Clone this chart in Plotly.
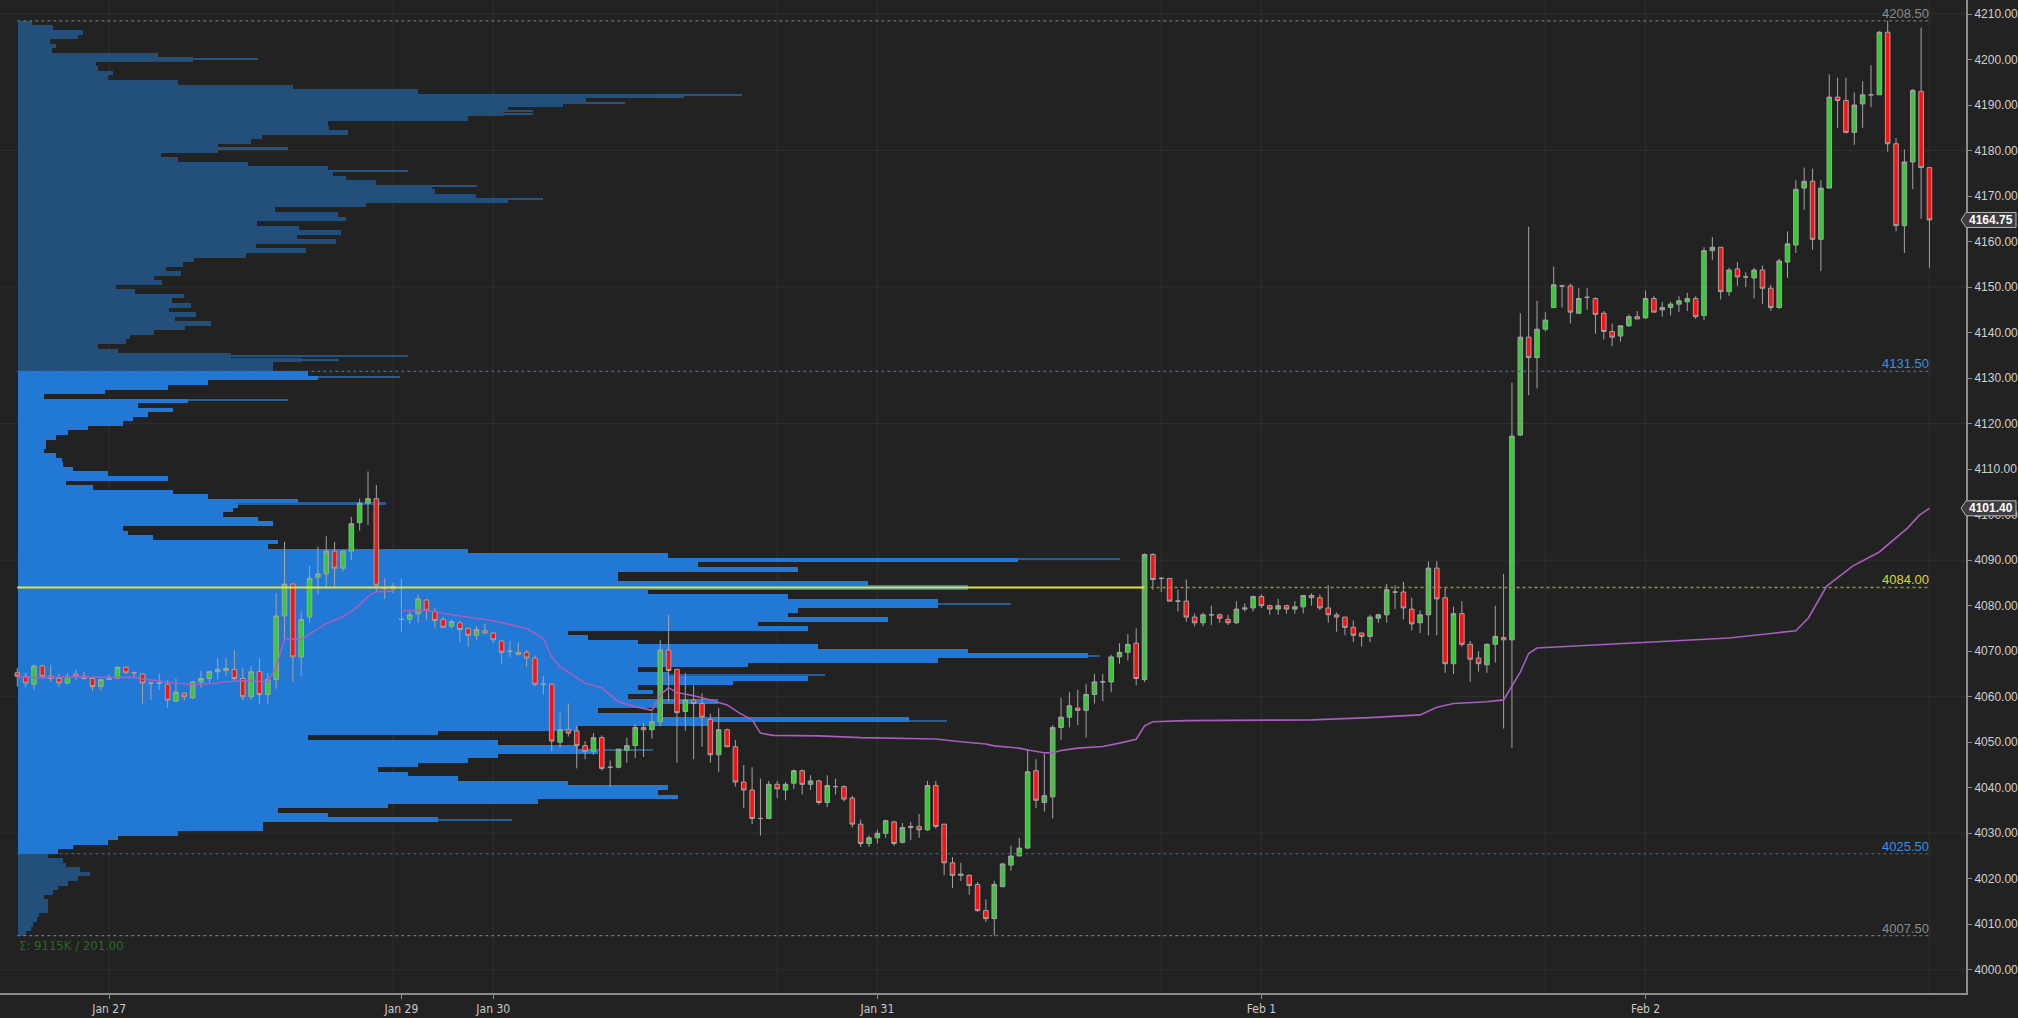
import plotly.graph_objects as go

# ---------------- data ----------------
tick_bars = [11, 46, 57, 103, 149, 195]
tick_labels = ["Jan 27", "Jan 29", "Jan 30", "Jan 31", "Feb 1", "Feb 2"]
grid_bars = [11, 45, 57, 91, 103, 137, 149, 183, 195, 229]
grid_prices = [4000, 4030, 4060, 4090, 4120, 4150, 4180, 4210]

opens = [
    4065.25, 4064.5, 4062.75, 4066.75, 4064.5, 4064.0, 4063.0, 4065.0, 4064.5, 4064.0,
    4062.25, 4063.75, 4064.0, 4066.5, 4065.25, 4065.0, 4063.0, 4063.0, 4062.75, 4059.0,
    4060.75, 4059.75, 4063.25, 4064.0, 4065.5, 4065.75, 4066.0, 4064.0, 4060.0, 4065.5,
    4060.5, 4063.75, 4077.75, 4084.75, 4068.75, 4077.5, 4086.25, 4087.0, 4092.0, 4088.25,
    4092.0, 4098.25, 4102.5, 4103.5, 4084.0, 4083.75, 4077.0, 4077.0, 4078.25, 4081.25,
    4078.75, 4077.0, 4075.5, 4076.25, 4075.0, 4073.5, 4074.5, 4074.0, 4072.25, 4070.0,
    4069.75, 4069.75, 4068.5, 4062.75, 4062.75, 4050.0, 4052.75, 4052.5, 4049.25, 4048.0,
    4051.0, 4044.5, 4044.5, 4048.25, 4049.25, 4053.25, 4052.75, 4054.5, 4070.25, 4066.0,
    4056.75, 4059.25, 4058.5, 4055.0, 4047.25, 4052.75, 4049.0, 4041.25, 4039.5, 4033.25,
    4033.25, 4040.75, 4039.5, 4041.0, 4043.75, 4040.75, 4041.5, 4036.75, 4040.25, 4040.25,
    4037.75, 4032.0, 4027.75, 4029.0, 4030.0, 4032.5, 4028.0, 4031.25, 4031.5, 4030.75,
    4040.5, 4032.0, 4023.5, 4020.75, 4020.75, 4018.75, 4013.0, 4011.25, 4018.25, 4023.0,
    4025.0, 4026.75, 4043.75, 4036.75, 4038.0, 4053.25, 4055.5, 4057.5, 4057.0, 4060.5,
    4063.25, 4063.25, 4068.75, 4069.75, 4071.75, 4063.75, 4091.25, 4086.0, 4086.0, 4081.0,
    4081.0, 4077.5, 4076.25, 4078.0, 4078.0, 4077.0, 4076.25, 4079.25, 4079.5, 4082.0,
    4080.0, 4079.25, 4080.0, 4079.25, 4079.75, 4082.25, 4081.75, 4079.5, 4078.0, 4077.5,
    4075.25, 4074.0, 4073.25, 4077.25, 4078.0, 4083.0, 4083.0, 4079.25, 4076.25, 4078.0,
    4088.25, 4081.75, 4067.25, 4078.25, 4071.5, 4068.5, 4067.0, 4071.5, 4073.0, 4072.5,
    4117.5, 4139.0, 4134.5, 4140.75, 4145.5, 4150.25, 4150.25, 4144.25, 4147.75, 4147.5,
    4144.25, 4140.25, 4139.25, 4141.5, 4143.5, 4143.25, 4147.5, 4145.0, 4145.5, 4146.25,
    4146.75, 4147.5, 4143.75, 4158.0, 4158.75, 4149.0, 4154.0, 4152.25, 4152.0, 4153.75,
    4149.75, 4145.5, 4155.5, 4159.25, 4171.75, 4173.25, 4160.5, 4171.75, 4191.75, 4191.0,
    4184.0, 4190.25, 4192.25, 4192.25, 4206.0, 4181.5, 4163.5, 4177.5, 4193.0, 4176.25,
]
highs = [
    4066.25, 4065.25, 4067.0, 4067.0, 4067.0, 4065.0, 4065.25, 4066.0, 4065.5, 4064.5,
    4064.0, 4065.0, 4066.5, 4066.75, 4065.5, 4065.25, 4063.0, 4065.0, 4063.75, 4064.0,
    4061.0, 4063.5, 4065.75, 4065.75, 4068.5, 4068.5, 4070.25, 4066.25, 4066.75, 4068.5,
    4065.25, 4082.75, 4094.0, 4085.0, 4078.75, 4088.75, 4093.0, 4095.25, 4094.0, 4092.0,
    4099.5, 4103.5, 4109.5, 4106.5, 4086.0, 4085.0, 4086.0, 4079.0, 4082.5, 4081.5,
    4079.5, 4077.5, 4077.0, 4076.75, 4075.25, 4075.5, 4076.0, 4074.25, 4072.5, 4072.25,
    4072.0, 4070.25, 4069.0, 4064.5, 4063.0, 4056.5, 4058.5, 4053.5, 4050.25, 4052.0,
    4051.5, 4046.0, 4048.5, 4051.0, 4054.0, 4054.25, 4056.5, 4072.5, 4078.0, 4066.0,
    4065.25, 4062.5, 4060.75, 4056.25, 4057.5, 4053.0, 4050.5, 4045.0, 4044.5, 4042.0,
    4041.5, 4041.5, 4041.25, 4044.0, 4044.0, 4042.75, 4041.75, 4042.75, 4042.0, 4040.5,
    4038.25, 4033.0, 4029.5, 4030.75, 4033.0, 4032.75, 4032.25, 4032.5, 4034.25, 4041.5,
    4041.5, 4032.0, 4024.75, 4023.5, 4021.0, 4019.25, 4015.5, 4019.5, 4023.5, 4027.25,
    4029.0, 4048.5, 4046.25, 4047.5, 4053.75, 4059.75, 4061.0, 4061.5, 4062.75, 4065.0,
    4065.0, 4069.25, 4071.75, 4073.75, 4075.0, 4091.5, 4091.5, 4086.25, 4086.0, 4083.5,
    4085.75, 4078.25, 4078.5, 4080.0, 4078.25, 4078.0, 4081.0, 4080.5, 4082.25, 4082.5,
    4080.25, 4081.5, 4080.25, 4081.0, 4082.25, 4082.75, 4082.5, 4084.5, 4078.5, 4077.5,
    4076.75, 4074.0, 4078.0, 4078.25, 4084.75, 4084.5, 4085.25, 4081.75, 4079.0, 4089.75,
    4089.75, 4084.0, 4079.75, 4081.0, 4072.25, 4070.0, 4071.75, 4080.0, 4087.0, 4129.0,
    4144.25, 4163.25, 4147.0, 4144.5, 4154.5, 4150.5, 4150.75, 4149.75, 4149.75, 4147.75,
    4144.75, 4142.0, 4141.5, 4144.0, 4144.75, 4149.25, 4148.0, 4146.75, 4146.75, 4148.0,
    4148.75, 4148.0, 4158.75, 4161.0, 4158.75, 4154.25, 4155.5, 4153.25, 4154.25, 4154.75,
    4150.5, 4156.25, 4162.25, 4173.5, 4176.25, 4176.0, 4173.5, 4196.75, 4196.0, 4196.0,
    4192.75, 4195.25, 4198.75, 4206.25, 4208.5, 4182.75, 4180.25, 4193.5, 4207.0, 4176.25,
]
lows = [
    4062.25, 4062.0, 4061.5, 4064.0, 4063.25, 4062.25, 4062.75, 4063.75, 4063.75, 4061.25,
    4061.25, 4063.75, 4064.0, 4065.0, 4064.0, 4058.5, 4059.25, 4061.5, 4057.5, 4059.0,
    4059.25, 4059.5, 4062.0, 4063.0, 4063.75, 4064.5, 4063.25, 4059.25, 4059.25, 4058.5,
    4058.5, 4061.75, 4072.5, 4063.25, 4064.5, 4076.25, 4082.5, 4084.0, 4084.25, 4087.5,
    4090.0, 4096.5, 4097.75, 4083.0, 4081.5, 4082.75, 4074.25, 4076.0, 4076.25, 4077.0,
    4075.0, 4075.25, 4075.0, 4072.0, 4071.0, 4072.5, 4073.75, 4071.75, 4067.25, 4068.75,
    4069.25, 4066.5, 4062.25, 4060.5, 4048.0, 4048.75, 4051.25, 4044.25, 4046.25, 4047.25,
    4043.75, 4040.25, 4044.25, 4045.5, 4046.5, 4046.75, 4050.75, 4053.5, 4058.75, 4045.5,
    4052.5, 4046.25, 4049.0, 4045.5, 4043.5, 4049.0, 4040.25, 4035.5, 4032.0, 4029.5,
    4033.25, 4037.75, 4037.25, 4039.75, 4038.5, 4039.5, 4036.25, 4035.75, 4038.5, 4037.0,
    4031.25, 4027.0, 4027.0, 4027.75, 4029.0, 4027.25, 4027.75, 4028.5, 4029.0, 4030.5,
    4031.0, 4020.75, 4018.0, 4019.5, 4016.5, 4012.75, 4010.5, 4007.5, 4018.25, 4021.75,
    4025.0, 4026.5, 4035.5, 4034.75, 4033.25, 4050.5, 4053.25, 4053.75, 4051.0, 4058.5,
    4059.0, 4061.0, 4067.25, 4068.0, 4062.5, 4063.25, 4083.5, 4083.0, 4081.0, 4078.75,
    4076.5, 4075.5, 4075.5, 4075.75, 4076.25, 4075.75, 4076.0, 4078.75, 4078.75, 4079.5,
    4078.0, 4078.0, 4078.25, 4078.25, 4078.25, 4080.0, 4079.0, 4076.25, 4074.25, 4073.5,
    4072.0, 4071.0, 4072.0, 4076.25, 4076.25, 4079.25, 4077.0, 4074.5, 4074.0, 4073.5,
    4073.5, 4065.25, 4065.0, 4071.0, 4063.25, 4065.5, 4065.25, 4067.5, 4053.0, 4048.75,
    4117.25, 4126.25, 4127.75, 4140.25, 4145.5, 4145.5, 4142.0, 4144.25, 4145.0, 4139.75,
    4138.5, 4137.0, 4138.0, 4141.25, 4143.0, 4143.0, 4144.5, 4143.5, 4143.75, 4144.5,
    4144.75, 4143.0, 4142.75, 4156.0, 4147.25, 4148.0, 4150.25, 4150.0, 4147.5, 4146.25,
    4144.75, 4145.25, 4152.0, 4157.5, 4167.0, 4158.25, 4153.5, 4171.75, 4185.0, 4183.75,
    4181.25, 4185.0, 4189.5, 4192.25, 4179.75, 4162.25, 4157.5, 4171.5, 4165.0, 4154.25,
]
closes = [
    4064.5, 4063.0, 4066.75, 4064.5, 4064.0, 4063.0, 4064.5, 4064.5, 4064.0, 4062.25,
    4063.75, 4064.0, 4066.5, 4065.25, 4065.25, 4063.0, 4063.0, 4063.0, 4059.25, 4061.0,
    4060.0, 4063.25, 4064.0, 4065.5, 4066.0, 4066.25, 4064.0, 4060.0, 4065.5, 4060.5,
    4063.75, 4077.75, 4084.75, 4068.75, 4077.0, 4086.0, 4087.0, 4092.0, 4088.25, 4092.0,
    4098.0, 4102.5, 4103.5, 4084.5, 4083.75, 4084.25, 4077.0, 4078.0, 4081.5, 4079.0,
    4076.75, 4075.25, 4076.5, 4074.75, 4073.5, 4074.75, 4074.0, 4072.5, 4069.75, 4070.0,
    4069.25, 4068.5, 4062.75, 4062.75, 4050.25, 4052.75, 4052.0, 4049.25, 4048.0, 4051.0,
    4044.25, 4044.5, 4048.5, 4049.25, 4053.25, 4052.75, 4054.5, 4070.25, 4065.75, 4056.5,
    4059.25, 4058.5, 4055.5, 4047.25, 4052.75, 4049.0, 4041.25, 4039.5, 4033.25, 4033.25,
    4040.75, 4039.75, 4040.75, 4043.75, 4040.75, 4041.5, 4036.75, 4040.5, 4040.25, 4037.5,
    4032.0, 4027.75, 4029.0, 4030.0, 4032.75, 4027.75, 4031.25, 4031.5, 4030.75, 4040.5,
    4031.5, 4023.5, 4020.75, 4021.0, 4018.5, 4013.0, 4011.25, 4018.75, 4023.25, 4025.0,
    4026.75, 4043.5, 4037.25, 4038.25, 4053.25, 4055.5, 4058.0, 4057.0, 4060.5, 4063.25,
    4063.25, 4068.75, 4069.75, 4071.5, 4064.0, 4091.25, 4085.75, 4086.0, 4081.0, 4081.0,
    4077.5, 4076.25, 4078.0, 4078.0, 4077.25, 4076.25, 4079.25, 4079.5, 4082.0, 4080.0,
    4079.25, 4080.0, 4079.25, 4079.75, 4082.25, 4081.75, 4079.5, 4078.0, 4077.5, 4075.25,
    4073.5, 4073.25, 4077.5, 4078.0, 4083.5, 4083.0, 4079.5, 4076.0, 4078.0, 4088.25,
    4081.5, 4067.25, 4078.25, 4071.5, 4068.25, 4067.25, 4071.5, 4073.25, 4072.5, 4117.25,
    4139.0, 4134.5, 4140.75, 4142.75, 4150.5, 4150.25, 4144.5, 4147.5, 4147.75, 4144.0,
    4140.25, 4139.0, 4141.5, 4143.5, 4143.0, 4147.5, 4144.5, 4145.5, 4146.25, 4147.0,
    4147.5, 4143.5, 4158.0, 4158.75, 4149.0, 4153.75, 4152.25, 4152.25, 4153.75, 4149.75,
    4145.5, 4155.75, 4159.5, 4171.5, 4173.25, 4160.5, 4171.75, 4191.75, 4191.0, 4184.0,
    4190.0, 4192.25, 4192.25, 4206.0, 4181.5, 4163.5, 4177.5, 4193.25, 4176.25, 4164.75,
]

# VWAP readings (bar position, price); None marks the weekly reset
vwap_x = [0, 2, 5, 8, 12, 14, 15, 17, 18, 20, 23, 25, 27, 30, 31, 32, 34, 35, 37, 39,
          40, 41, 42, 43, 45, None,
          46, 49, 52, 57, 61, 63, 64, 65, 68, 70, 72, 74, 76, 77, 78, 79, 81, 83, 85,
          86.5, 88, 89, 90.5, 96, 101, 106, 110, 113, 116, 117, 120, 121, 123, 124, 125,
          127, 130, 132, 134, 135, 136, 140, 146, 155, 162, 168, 170, 172, 176, 178, 180,
          181, 182, 186, 198, 205, 213, 214.5, 216.7, 219.8, 223, 226.4, 227.8, 229]
vwap_y = [4064.4, 4064.2, 4064.3, 4064.4, 4064.2, 4064.3, 4063.9, 4063.5, 4063.2, 4062.8,
          4062.8, 4063.3, 4063.5, 4063.3, 4066.6, 4072.6, 4072.6, 4073.8, 4076.1, 4077.6,
          4078.7, 4080.2, 4082.0, 4083.1, 4083.2, None,
          4078.9, 4079.0, 4078.0, 4076.7, 4075.0, 4072.8, 4068.8, 4066.6, 4063.0, 4061.9,
          4058.9, 4057.8, 4057.0, 4060.4, 4062.0, 4060.9, 4060.2, 4059.3, 4058.2,
          4056.4, 4054.9, 4052.0, 4051.5, 4051.4, 4051.0, 4050.9, 4050.7, 4050.1, 4049.6,
          4049.2, 4048.7, 4048.3, 4047.7, 4047.7, 4048.2,
          4048.7, 4049.05, 4049.8, 4050.65, 4053.6, 4054.5, 4054.75, 4054.75, 4054.9,
          4055.4, 4056.0, 4057.7, 4058.5, 4058.9, 4059.3, 4065.4,
          4069.5, 4070.7, 4071.1, 4072.3, 4072.9, 4074.5, 4077.3, 4084.3, 4088.7, 4091.8,
          4097.1, 4099.9, 4101.4]

# Volume profile, 1-point levels from 4208 down to 4008, volume in thousands
profile_top_level = 4208
profile_bottom_level = 4008
profile_volume_k = [
    2.0, 5.1, 9.4, 8.7, 4.6, 5.5, 4.9, 20.2, 25.3, 11.3,
    11.5, 13.7, 13.0, 23.1, 39.7, 57.7, 92.0, 82.0, 78.6, 70.7,
    70.1, 64.9, 44.7, 44.9, 47.6, 35.2, 33.6, 28.9, 28.9, 20.6,
    23.1, 33.2, 44.7, 45.5, 47.3, 51.7, 59.7, 60.2, 66.1, 70.7,
    50.2, 37.1, 46.2, 47.3, 34.5, 40.5, 46.6, 40.3, 45.9, 34.3,
    41.6, 32.9, 25.4, 23.8, 21.4, 23.5, 19.6, 20.8, 14.1, 16.9,
    24.0, 22.2, 25.0, 21.8, 25.7, 22.7, 27.8, 24.1, 19.6, 16.2,
    15.6, 11.5, 14.4, 30.7, 41.0, 36.8, 36.8,
    41.8, 43.3, 27.4, 21.6, 12.6, 3.8, 24.5, 17.3, 22.4, 18.8,
    16.6, 15.2, 10.1, 7.2, 5.5, 4.0, 4.0, 3.8, 5.5, 6.3,
    6.5, 7.9, 13.0, 21.6, 6.9, 10.8, 22.4, 27.4, 40.4, 31.7,
    31.0, 29.6, 34.6, 36.8, 15.2, 15.9, 19.5, 37.5, 36.1, 64.9,
    93.8, 144.3, 98.1, 112.6, 86.6, 86.6, 122.7, 137.1, 90.9, 111.1,
    132.8, 132.8, 112.6, 111.1, 125.5, 106.8, 114.0, 79.4, 82.3, 89.5,
    115.4, 137.1, 154.4, 132.8, 105.3, 89.5, 93.8, 114.0, 103.2, 89.5,
    91.6, 88.0, 101.0, 92.4, 83.7, 92.4, 128.5, 99.6, 80.8, 60.6,
    41.8, 69.3, 80.8, 83.7, 69.3, 64.9, 57.7, 51.9, 56.3, 63.5,
    79.4, 93.8, 92.4, 95.2, 75.0, 53.4, 37.5, 44.7, 60.6, 35.4,
    35.4, 23.1, 14.4, 13.0, 7.9, 5.8,
    4.3, 6.5, 6.9, 8.9, 10.4, 8.7, 7.2, 5.8, 5.1, 3.8,
    4.3, 4.3, 4.3, 3.0, 2.7, 2.2, 1.9, 1.2,
]

# thin single-tick protrusions of the profile (price, volume in thousands)
spike_prices = [4200.25, 4192.25, 4191.75, 4190.5, 4188.75, 4188.0, 4180.5, 4175.5,
                4172.25, 4169.5, 4135.0, 4134.0,
                4130.25, 4125.25, 4102.5, 4090.25, 4080.5, 4069.0, 4064.75, 4054.75,
                4048.25, 4033.0]
spike_volume_k = [34.6, 104.5, 96.1, 87.6, 74.3, 74.3, 39.0, 56.3,
                  66.2, 75.8, 56.3, 46.3,
                  55.1, 39.0, 53.1, 159.0, 143.3, 156.1, 116.5, 134.1,
                  91.6, 71.3]

range_high = 4208.50
value_area_high = 4131.50
poc_price = 4084.00
value_area_low = 4025.50
range_low = 4007.50
poc_touch_bar = 135
last_price = 4164.75
vwap_last = 4101.40
summary_text = "Σ: 9115K / 201.00"

# ---------------- layout geometry ----------------
W, H = 2018, 1018
M_R, M_B = 52, 25
PW, PH = W - M_R, H - M_B
BAR0_PX, BAR_PX = 17.3, 8.35
X2 = [-BAR0_PX / BAR_PX, (PW - BAR0_PX) / BAR_PX]
PX_PER_K = 6.93
X1 = [-18 / PX_PER_K, (PW - 18) / PX_PER_K]
Y0, Y1 = 3994.9, 4213.08


def xp(i):
    return (i - X2[0]) / (X2[1] - X2[0])


def yp(p):
    return (p - Y0) / (Y1 - Y0)


BG = "#222222"
BRIGHT = "#2179d5"
DARK = "#234f7b"
SPIKE_VA = "#285d92"
SPIKE_OUT = "#27547f"
LAST_BAR = len(closes) - 1

levels = list(range(profile_top_level, profile_bottom_level - 1, -1))
prof_colors = [BRIGHT if value_area_low < lv < value_area_high else DARK for lv in levels]
spike_colors = [SPIKE_VA if value_area_low < p < value_area_high else SPIKE_OUT
                for p in spike_prices]

fig = go.Figure()

# profile spikes first, main profile over them
fig.add_trace(go.Bar(
    x=spike_volume_k, y=spike_prices, orientation="h", width=0.35, base=0,
    marker=dict(color=spike_colors, line=dict(width=0)),
    xaxis="x", yaxis="y", hoverinfo="skip", showlegend=False,
))
fig.add_trace(go.Bar(
    x=profile_volume_k, y=levels, orientation="h", width=1.0, base=0,
    marker=dict(color=prof_colors, line=dict(width=0)),
    xaxis="x", yaxis="y", hoverinfo="skip", showlegend=False,
))


def level_line(price, color, dash, width, x0=0, x1=LAST_BAR):
    fig.add_trace(go.Scatter(
        x=[x0, x1], y=[price, price], mode="lines",
        line=dict(color=color, dash=dash, width=width),
        xaxis="x2", yaxis="y", hoverinfo="skip", showlegend=False,
    ))


level_line(range_high, "#707070", "dot", 1.2)
level_line(value_area_high, "#2d6fb5", "dot", 1.2)
level_line(value_area_low, "#2d6fb5", "dot", 1.2)
level_line(range_low, "#707070", "dot", 1.2)
level_line(poc_price, "#e6e62c", "solid", 2, 0, poc_touch_bar)
level_line(poc_price, "#98982a", "dot", 1.4, poc_touch_bar, LAST_BAR)

# VWAP
fig.add_trace(go.Scatter(
    x=vwap_x, y=vwap_y, mode="lines", connectgaps=False,
    line=dict(color="#a75fbd", width=1.6),
    xaxis="x2", yaxis="y", hoverinfo="skip", showlegend=False,
))

# candles
fig.add_trace(go.Candlestick(
    x=list(range(len(closes))), open=opens, high=highs, low=lows, close=closes,
    increasing=dict(fillcolor="#33cc33", line=dict(color="#a3a3a3", width=1)),
    decreasing=dict(fillcolor="#ff1010", line=dict(color="#a3a3a3", width=1)),
    whiskerwidth=0, xaxis="x2", yaxis="y", hoverinfo="skip", showlegend=False,
))

shapes = []
for b in grid_bars:
    shapes.append(dict(type="line", xref="paper", yref="paper", x0=xp(b), x1=xp(b),
                       y0=0, y1=1, line=dict(color="#2f2f2f", width=1), layer="below"))
for p in grid_prices:
    shapes.append(dict(type="line", xref="paper", yref="paper", x0=0, x1=1,
                       y0=yp(p), y1=yp(p), line=dict(color="#2f2f2f", width=1), layer="below"))

annotations = []
label_x = xp(LAST_BAR) + 0.5 / PW
for price, color in [(range_high, "#8a8a8a"), (value_area_high, "#3b8fe2"),
                     (poc_price, "#d8d82c"), (value_area_low, "#3b8fe2"),
                     (range_low, "#8a8a8a")]:
    annotations.append(dict(
        xref="paper", yref="y", x=label_x, y=price, text=f"{price:.2f}",
        xanchor="right", yanchor="bottom", showarrow=False, borderpad=0, yshift=-1,
        font=dict(family="Liberation Sans, Arial, sans-serif", size=13, color=color),
    ))

# price flags on the right axis
half_h = 7.5 / PH
tip_x = (PW - 5) / PW
x_left = 1.0
x_right = (W - 2) / PW
for price in [last_price, vwap_last]:
    yc = yp(price)
    path = (f"M {tip_x},{yc} L {x_left},{yc + half_h} L {x_right},{yc + half_h} "
            f"L {x_right},{yc - half_h} L {x_left},{yc - half_h} Z")
    shapes.append(dict(type="path", xref="paper", yref="paper", path=path,
                       fillcolor="#3e3e42", line=dict(color="#b5b5b5", width=1),
                       layer="above"))
    annotations.append(dict(
        xref="paper", yref="paper", x=(x_left + x_right) / 2, y=yc,
        text=f"<b>{price:.2f}</b>", showarrow=False, xanchor="center", yanchor="middle",
        font=dict(family="Liberation Sans, Arial, sans-serif", size=12, color="#ffffff"),
    ))

annotations.append(dict(
    xref="paper", yref="y", x=18 / PW, y=range_low, text=summary_text,
    xanchor="left", yanchor="top", showarrow=False, borderpad=0, yshift=-1,
    font=dict(family="Liberation Sans Narrow, DejaVu Sans Condensed, sans-serif",
              size=13, color="#1f6e1f"),
))

fig.update_layout(
    width=W, height=H,
    margin=dict(l=0, r=M_R, t=0, b=M_B, pad=0),
    paper_bgcolor=BG, plot_bgcolor="rgba(0,0,0,0)",
    showlegend=False, bargap=0, barmode="overlay", boxgap=0.22,
    xaxis=dict(range=X1, visible=False, fixedrange=True),
    xaxis2=dict(
        range=X2, overlaying="x", anchor="y", side="bottom",
        tickmode="array", tickvals=tick_bars, ticktext=tick_labels,
        ticks="outside", ticklen=4, tickwidth=1, tickcolor="#8c8c8c",
        showline=True, linecolor="#8c8c8c", linewidth=2,
        showgrid=False, zeroline=False, rangeslider=dict(visible=False),
        tickfont=dict(family="Liberation Sans Narrow, DejaVu Sans Condensed, sans-serif",
                      size=12, color="#c8c8c8"),
    ),
    yaxis=dict(
        range=[Y0, Y1], side="right", anchor="x",
        tick0=4000, dtick=10, tickformat=".2f",
        ticks="outside", ticklen=4, tickwidth=1, tickcolor="#8c8c8c",
        showline=True, linecolor="#8c8c8c", linewidth=2,
        showgrid=False, zeroline=False,
        tickfont=dict(family="Liberation Sans, Arial, sans-serif", size=12, color="#d0d0d0"),
    ),
    shapes=shapes, annotations=annotations,
)

page_fix = ("document.documentElement.style.margin='0';"
            "document.body.style.margin='0';document.body.style.padding='0';"
            "document.body.style.background='#222222';"
            "document.body.style.overflow='hidden';"
            "document.documentElement.style.overflow='hidden';")

fig.write_html("out.html", config={"displayModeBar": False}, post_script=page_fix)
